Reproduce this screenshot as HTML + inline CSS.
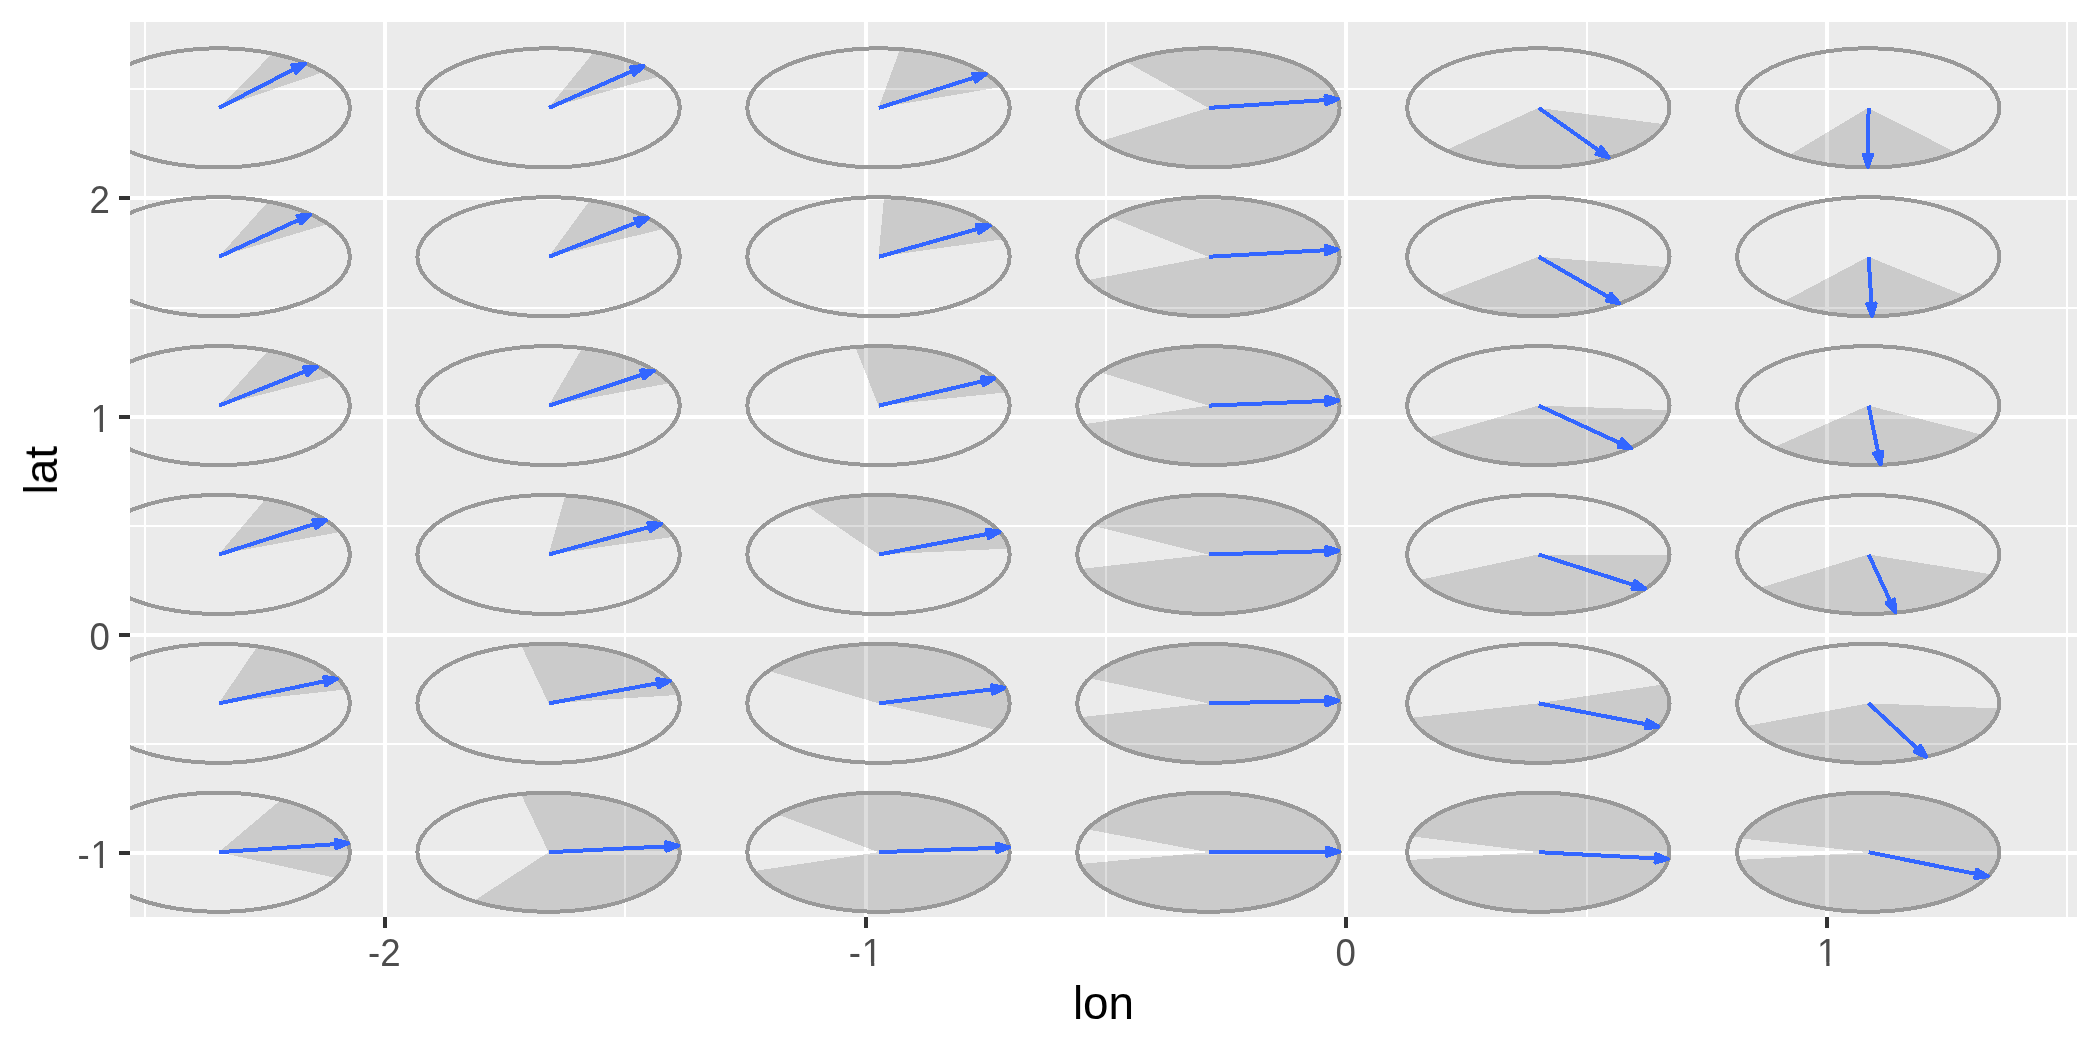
<!DOCTYPE html>
<html><head><meta charset="utf-8"><title>lon lat</title>
<style>html,body{margin:0;padding:0;background:#fff;overflow:hidden;}svg{display:block;}</style>
</head><body>
<svg xmlns="http://www.w3.org/2000/svg" width="2100" height="1050" viewBox="0 0 2100 1050">
<defs><clipPath id="pc"><rect x="130" y="22" width="1947" height="895"/></clipPath></defs>
<rect width="2100" height="1050" fill="#ffffff"/>
<rect x="130" y="22" width="1947" height="895" fill="#ebebeb"/>
<path d="M145 22V917M625 22V917M1106 22V917M1587 22V917M2067 22V917M130 744H2077M130 526H2077M130 308H2077M130 89H2077" stroke="#ffffff" stroke-width="2" fill="none"/>
<path d="M385 22V917M866 22V917M1346 22V917M1827 22V917M130 853H2077M130 635H2077M130 417H2077M130 198H2077" stroke="#ffffff" stroke-width="4" fill="none"/>
<g clip-path="url(#pc)" shape-rendering="crispEdges">
<path d="M218.7 107.9 L323.59 72.08 L319 69.47 L314.1 66.97 L308.9 64.61 L303.41 62.38 L297.66 60.29 L291.66 58.36 L285.43 56.58 L278.99 54.96 L272.36 53.51ZM548.6 107.9 L659.85 76.29 L655.48 73.32 L650.74 70.48 L645.62 67.77 L640.16 65.2 L634.36 62.79 L628.26 60.54 L621.88 58.45 L615.23 56.55 L608.34 54.83 L601.24 53.3 L593.95 51.97ZM878.5 107.9 L1001.32 86.91 L998.25 83.52 L994.72 80.23 L990.76 77.03 L986.37 73.96 L981.57 71.01 L976.38 68.2 L970.83 65.55 L964.92 63.05 L958.69 60.72 L952.15 58.57 L945.34 56.61 L938.27 54.84 L930.98 53.27 L923.48 51.91 L915.82 50.76 L908.02 49.82 L900.11 49.11ZM1208.4 107.9 L1099.93 141.44 L1104.74 144.45 L1109.95 147.31 L1115.54 150.01 L1121.49 152.56 L1127.78 154.93 L1134.39 157.12 L1141.28 159.12 L1148.43 160.91 L1155.81 162.51 L1163.4 163.89 L1171.16 165.05 L1179.07 166 L1187.09 166.71 L1195.19 167.2 L1203.34 167.46 L1211.52 167.49 L1219.68 167.28 L1227.79 166.85 L1235.84 166.19 L1243.77 165.3 L1251.57 164.19 L1259.2 162.86 L1266.64 161.31 L1273.85 159.56 L1280.8 157.61 L1287.47 155.47 L1293.84 153.14 L1299.87 150.63 L1305.55 147.96 L1310.86 145.14 L1315.76 142.17 L1320.25 139.07 L1324.31 135.84 L1327.91 132.51 L1331.05 129.08 L1333.72 125.57 L1335.9 122 L1337.58 118.36 L1338.77 114.69 L1339.45 110.99 L1339.61 107.28 L1339.28 103.57 L1338.43 99.88 L1337.08 96.21 L1335.22 92.6 L1332.88 89.04 L1330.05 85.56 L1326.76 82.16 L1323 78.86 L1318.79 75.68 L1314.16 72.62 L1309.12 69.7 L1303.69 66.92 L1297.89 64.31 L1291.74 61.86 L1285.27 59.59 L1278.5 57.51 L1271.46 55.63 L1264.17 53.95 L1256.66 52.47 L1248.97 51.22 L1241.13 50.18 L1233.15 49.37 L1225.08 48.78 L1216.94 48.42 L1208.77 48.3 L1200.6 48.4 L1192.46 48.74 L1184.39 49.3 L1176.4 50.1 L1168.54 51.11 L1160.83 52.35 L1153.31 53.8 L1146 55.47 L1138.94 57.33 L1132.14 59.39 L1125.64 61.65ZM1538.3 107.9 L1445.94 150.24 L1451.79 152.72 L1457.97 155.03 L1464.44 157.17 L1471.19 159.12 L1478.19 160.88 L1485.41 162.45 L1492.83 163.81 L1500.42 164.97 L1508.15 165.91 L1515.99 166.64 L1523.91 167.14 L1531.89 167.43 L1539.89 167.5 L1547.89 167.34 L1555.85 166.97 L1563.74 166.37 L1571.54 165.56 L1579.22 164.53 L1586.74 163.29 L1594.08 161.85 L1601.22 160.21 L1608.12 158.37 L1614.77 156.34 L1621.12 154.13 L1627.17 151.75 L1632.89 149.21 L1638.26 146.51 L1643.26 143.67 L1647.86 140.7 L1652.06 137.61 L1655.84 134.4 L1659.18 131.1 L1662.06 127.71 L1664.49 124.25ZM1868.2 107.9 L1788.95 155.41 L1795.66 157.57 L1802.65 159.53 L1809.9 161.3 L1817.38 162.85 L1825.05 164.19 L1832.9 165.31 L1840.89 166.2 L1848.98 166.86 L1857.15 167.29 L1865.36 167.49 L1873.58 167.45 L1881.78 167.18 L1889.93 166.68 L1897.99 165.95 L1905.94 164.99 L1913.74 163.8 L1921.36 162.39 L1928.77 160.78 L1935.94 158.95 L1942.84 156.92 L1949.46 154.7 L1955.75 152.3ZM218.7 256.76 L328.3 223.98 L323.76 221.05 L318.85 218.24 L313.57 215.58 L307.94 213.06 L302 210.7 L295.75 208.51 L289.23 206.5 L282.45 204.66 L275.43 203.01 L268.22 201.56ZM548.6 256.76 L664.45 228.77 L660.65 225.74 L656.46 222.81 L651.9 220 L646.98 217.32 L641.73 214.77 L636.16 212.37 L630.29 210.11 L624.14 208.02 L617.73 206.1 L611.08 204.35 L604.22 202.78 L597.17 201.39 L589.95 200.19ZM878.5 256.76 L1003.86 239.14 L1001.24 235.68 L998.16 232.3 L994.63 229.01 L990.66 225.82 L986.27 222.76 L981.47 219.82 L976.29 217.01 L970.73 214.36 L964.83 211.87 L958.6 209.55 L952.07 207.41 L945.26 205.45 L938.2 203.68 L930.92 202.12 L923.44 200.76 L915.78 199.61 L907.99 198.68 L900.09 197.97 L892.1 197.48 L884.07 197.21ZM1208.4 256.76 L1087.68 280.13 L1091.11 283.49 L1094.99 286.74 L1099.31 289.88 L1104.05 292.9 L1109.19 295.77 L1114.71 298.49 L1120.6 301.05 L1126.82 303.45 L1133.36 305.66 L1140.19 307.68 L1147.28 309.5 L1154.61 311.13 L1162.14 312.54 L1169.85 313.73 L1177.72 314.71 L1185.7 315.47 L1193.76 315.99 L1201.89 316.29 L1210.04 316.36 L1218.18 316.2 L1226.29 315.81 L1234.32 315.19 L1242.26 314.35 L1250.07 313.28 L1257.71 312 L1265.17 310.5 L1272.4 308.79 L1279.39 306.89 L1286.11 304.79 L1292.52 302.51 L1298.61 300.05 L1304.35 297.42 L1309.73 294.63 L1314.71 291.7 L1319.28 288.64 L1323.42 285.45 L1327.12 282.15 L1330.36 278.75 L1333.13 275.27 L1335.42 271.72 L1337.22 268.11 L1338.52 264.45 L1339.33 260.77 L1339.62 257.07 L1339.41 253.37 L1338.69 249.68 L1337.47 246.02 L1335.76 242.4 L1333.55 238.83 L1330.86 235.34 L1327.69 231.93 L1324.07 228.61 L1320 225.4 L1315.49 222.32 L1310.58 219.36 L1305.27 216.55 L1299.59 213.9 L1293.55 211.41 L1287.19 209.1 L1280.52 206.97 L1273.58 205.03 L1266.38 203.29 L1258.96 201.76 L1251.35 200.44 L1243.56 199.34 L1235.65 198.46 L1227.63 197.8 L1219.53 197.37 L1211.39 197.17 L1203.24 197.2 L1195.11 197.46 L1187.03 197.95 L1179.03 198.67 L1171.15 199.61 L1163.41 200.77 L1155.84 202.15 L1148.48 203.73 L1141.35 205.53 L1134.47 207.52 L1127.88 209.7 L1121.61 212.06 L1115.66 214.59 L1110.08 217.29ZM1538.3 256.76 L1438.42 295.42 L1443.95 298.19 L1449.86 300.79 L1456.12 303.23 L1462.7 305.48 L1469.58 307.54 L1476.73 309.39 L1484.12 311.05 L1491.72 312.48 L1499.51 313.7 L1507.45 314.69 L1515.52 315.46 L1523.67 315.99 L1531.88 316.29 L1540.12 316.36 L1548.35 316.19 L1556.54 315.79 L1564.65 315.15 L1572.67 314.28 L1580.55 313.19 L1588.26 311.88 L1595.77 310.34 L1603.06 308.6 L1610.09 306.65 L1616.84 304.51 L1623.28 302.18 L1629.39 299.66 L1635.14 296.98 L1640.5 294.14 L1645.47 291.16 L1650.01 288.04 L1654.11 284.79 L1657.75 281.43 L1660.92 277.98 L1663.61 274.45 L1665.81 270.84 L1667.5 267.18ZM1868.2 256.76 L1782.73 301.99 L1789.09 304.31 L1795.75 306.46 L1802.7 308.41 L1809.89 310.16 L1817.32 311.7 L1824.93 313.03 L1832.72 314.14 L1840.65 315.04 L1848.68 315.7 L1856.78 316.14 L1864.93 316.35 L1873.1 316.32 L1881.24 316.07 L1889.33 315.59 L1897.35 314.88 L1905.25 313.94 L1913 312.78 L1920.58 311.41 L1927.96 309.82 L1935.11 308.03 L1942 306.04 L1948.61 303.86 L1954.9 301.5 L1960.86 298.97 L1966.45 296.27ZM218.7 405.62 L332.91 376.27 L328.78 373.17 L324.24 370.2 L319.31 367.36 L314.01 364.65 L308.36 362.1 L302.38 359.71 L296.09 357.49 L289.52 355.44 L282.68 353.58 L275.61 351.91 L268.33 350.44ZM548.6 405.62 L670.1 383.11 L666.82 379.75 L663.09 376.49 L658.92 373.34 L654.33 370.32 L649.34 367.43 L643.97 364.68 L638.23 362.09 L632.16 359.66 L625.77 357.41 L619.08 355.34 L612.13 353.47 L604.93 351.79 L597.52 350.31 L589.93 349.05 L582.17 348ZM878.5 405.62 L1006.44 392.37 L1004.43 388.86 L1001.94 385.4 L999 382.02 L995.61 378.73 L991.78 375.53 L987.53 372.45 L982.87 369.49 L977.83 366.67 L972.42 363.99 L966.66 361.47 L960.57 359.11 L954.17 356.92 L947.49 354.92 L940.56 353.1 L933.4 351.48 L926.03 350.06 L918.48 348.85 L910.79 347.85 L902.97 347.06 L895.07 346.49 L887.1 346.14 L879.1 346.02 L871.1 346.11 L863.13 346.43 L855.21 346.96ZM1208.4 405.62 L1083.8 424.32 L1086.61 427.81 L1089.9 431.22 L1093.64 434.53 L1097.84 437.72 L1102.46 440.79 L1107.5 443.73 L1112.93 446.51 L1118.73 449.14 L1124.88 451.59 L1131.36 453.87 L1138.14 455.96 L1145.19 457.85 L1152.49 459.54 L1160 461.02 L1167.71 462.29 L1175.57 463.33 L1183.56 464.15 L1191.65 464.74 L1199.8 465.1 L1207.99 465.22 L1216.17 465.12 L1224.33 464.78 L1232.43 464.22 L1240.43 463.42 L1248.31 462.4 L1256.03 461.16 L1263.56 459.7 L1270.88 458.03 L1277.96 456.16 L1284.77 454.09 L1291.28 451.83 L1297.46 449.39 L1303.3 446.78 L1308.77 444.01 L1313.85 441.1 L1318.52 438.04 L1322.75 434.85 L1326.55 431.56 L1329.88 428.16 L1332.74 424.67 L1335.11 421.11 L1336.99 417.49 L1338.37 413.82 L1339.25 410.12 L1339.61 406.41 L1339.46 402.69 L1338.8 398.98 L1337.64 395.29 L1335.97 391.65 L1333.8 388.06 L1331.15 384.55 L1328.01 381.11 L1324.41 377.77 L1320.36 374.53 L1315.87 371.42 L1310.96 368.44 L1305.66 365.61 L1299.97 362.93 L1293.93 360.42 L1287.56 358.08 L1280.87 355.93 L1273.91 353.97 L1266.68 352.22 L1259.23 350.67 L1251.59 349.34 L1243.77 348.22 L1235.82 347.33 L1227.76 346.67 L1219.63 346.23 L1211.45 346.03 L1203.26 346.06 L1195.09 346.32 L1186.97 346.82 L1178.93 347.54 L1171.01 348.49 L1163.24 349.66 L1155.64 351.05 L1148.24 352.65 L1141.09 354.46 L1134.19 356.46 L1127.58 358.66 L1121.29 361.04 L1115.34 363.6 L1109.75 366.32 L1104.54 369.19 L1099.74 372.2ZM1538.3 405.62 L1427.77 437.75 L1432.4 440.81 L1437.44 443.75 L1442.87 446.53 L1448.68 449.16 L1454.83 451.61 L1461.31 453.89 L1468.09 455.98 L1475.15 457.87 L1482.45 459.56 L1489.96 461.03 L1497.67 462.29 L1505.53 463.34 L1513.53 464.15 L1521.61 464.74 L1529.77 465.1 L1537.95 465.22 L1546.14 465.12 L1554.3 464.78 L1562.39 464.21 L1570.4 463.41 L1578.27 462.39 L1585.99 461.15 L1593.53 459.69 L1600.85 458.02 L1607.92 456.14 L1614.73 454.07 L1621.23 451.81 L1627.42 449.37 L1633.25 446.76 L1638.72 443.99 L1643.79 441.07 L1648.46 438.01 L1652.69 434.82 L1656.48 431.53 L1659.81 428.13 L1662.66 424.64 L1665.03 421.08 L1666.91 417.45 L1668.28 413.79 L1669.15 410.09ZM1868.2 405.62 L1774.03 447.13 L1779.87 449.7 L1786.05 452.1 L1792.55 454.32 L1799.33 456.36 L1806.38 458.2 L1813.67 459.83 L1821.16 461.26 L1828.84 462.48 L1836.66 463.48 L1844.61 464.25 L1852.65 464.8 L1860.75 465.13 L1868.88 465.22 L1877 465.09 L1885.09 464.73 L1893.12 464.14 L1901.05 463.33 L1908.85 462.29 L1916.5 461.04 L1923.96 459.58 L1931.21 457.9 L1938.21 456.03 L1944.95 453.96 L1951.4 451.71 L1957.52 449.28 L1963.3 446.69 L1968.72 443.94 L1973.75 441.03 L1978.37 438 L1982.58 434.84ZM218.7 554.48 L340.21 531.98 L337.11 528.79 L333.61 525.7 L329.72 522.7 L325.44 519.81 L320.81 517.04 L315.83 514.4 L310.51 511.89 L304.88 509.53 L298.96 507.33 L292.77 505.28 L286.32 503.4 L279.64 501.69 L272.76 500.17 L265.69 498.83ZM548.6 554.48 L673.94 536.83 L671.38 533.44 L668.37 530.13 L664.93 526.9 L661.08 523.78 L656.81 520.77 L652.16 517.87 L647.13 515.11 L641.74 512.5 L636.02 510.03 L629.99 507.72 L623.65 505.59 L617.05 503.63 L610.2 501.85 L603.13 500.27 L595.86 498.88 L588.42 497.69 L580.84 496.7 L573.14 495.93 L565.35 495.36ZM878.5 554.48 L1009.08 548.59 L1008.01 544.89 L1006.44 541.24 L1004.37 537.63 L1001.81 534.09 L998.76 530.64 L995.25 527.27 L991.28 524.01 L986.87 520.87 L982.03 517.86 L976.8 514.99 L971.17 512.28 L965.19 509.73 L958.86 507.36 L952.23 505.17 L945.3 503.18 L938.12 501.38 L930.7 499.79 L923.07 498.42 L915.28 497.26 L907.33 496.33 L899.28 495.63 L891.15 495.15 L882.96 494.91 L874.76 494.9 L866.57 495.12 L858.43 495.58 L850.37 496.26 L842.42 497.17 L834.61 498.31 L826.97 499.66 L819.53 501.23 L812.32 503.01 L805.37 504.99ZM1208.4 554.48 L1081.1 568.95 L1083.33 572.52 L1086.04 576.01 L1089.23 579.43 L1092.87 582.75 L1096.96 585.95 L1101.49 589.04 L1106.43 591.99 L1111.76 594.8 L1117.47 597.45 L1123.52 599.94 L1129.91 602.25 L1136.6 604.37 L1143.57 606.3 L1150.79 608.03 L1158.23 609.56 L1165.87 610.87 L1173.67 611.96 L1181.6 612.83 L1189.64 613.47 L1197.75 613.89 L1205.91 614.07 L1214.07 614.03 L1222.21 613.75 L1230.3 613.25 L1238.3 612.52 L1246.19 611.56 L1253.93 610.38 L1261.49 608.99 L1268.85 607.38 L1275.97 605.57 L1282.84 603.57 L1289.41 601.37 L1295.67 598.99 L1301.6 596.44 L1307.16 593.73 L1312.34 590.86 L1317.12 587.85 L1321.48 584.72 L1325.4 581.47 L1328.87 578.11 L1331.87 574.66 L1334.39 571.14 L1336.43 567.55 L1337.97 563.9 L1339.01 560.23 L1339.54 556.53 L1339.57 552.82 L1339.09 549.12 L1338.1 545.44 L1336.61 541.79 L1334.63 538.19 L1332.16 534.66 L1329.2 531.2 L1325.78 527.84 L1321.91 524.57 L1317.6 521.43 L1312.86 518.41 L1307.72 515.53 L1302.2 512.8 L1296.31 510.23 L1290.08 507.83 L1283.54 505.61 L1276.7 503.59 L1269.6 501.76 L1262.27 500.13 L1254.72 498.71 L1247 497.51 L1239.13 496.53 L1231.13 495.78 L1223.06 495.25 L1214.92 494.95 L1206.76 494.88 L1198.6 495.04 L1190.48 495.43 L1182.44 496.05 L1174.49 496.9 L1166.67 497.97 L1159.02 499.26 L1151.55 500.76 L1144.31 502.47 L1137.31 504.38 L1130.59 506.48 L1124.17 508.77 L1118.08 511.24 L1112.34 513.88 L1106.96 516.67 L1101.98 519.61 L1097.42 522.68 L1093.28 525.87ZM1538.3 554.48 L1419.65 579.93 L1423.38 583.25 L1427.55 586.45 L1432.16 589.53 L1437.19 592.47 L1442.61 595.26 L1448.4 597.9 L1454.54 600.36 L1461.01 602.65 L1467.78 604.75 L1474.83 606.65 L1482.13 608.35 L1489.64 609.83 L1497.34 611.11 L1505.2 612.16 L1513.2 612.98 L1521.29 613.58 L1529.44 613.95 L1537.63 614.08 L1545.83 613.99 L1553.99 613.66 L1562.09 613.1 L1570.11 612.31 L1577.99 611.29 L1585.72 610.06 L1593.27 608.6 L1600.6 606.94 L1607.69 605.07 L1614.51 603 L1621.03 600.75 L1627.23 598.31 L1633.08 595.7 L1638.56 592.94 L1643.65 590.02 L1648.33 586.96 L1652.58 583.78 L1656.38 580.48 L1659.72 577.08 L1662.59 573.59 L1664.98 570.03 L1666.87 566.41 L1668.26 562.74 L1669.14 559.04 L1669.51 555.32ZM1868.2 554.48 L1759.68 587.99 L1764.39 590.94 L1769.5 593.76 L1774.97 596.42 L1780.79 598.94 L1786.94 601.28 L1793.4 603.45 L1800.14 605.44 L1807.13 607.23 L1814.34 608.83 L1821.77 610.23 L1829.36 611.41 L1837.1 612.39 L1844.96 613.14 L1852.9 613.68 L1860.9 613.99 L1868.93 614.08 L1876.96 613.95 L1884.95 613.6 L1892.88 613.02 L1900.72 612.23 L1908.43 611.21 L1916 609.99 L1923.39 608.56 L1930.56 606.92 L1937.51 605.09 L1944.2 603.07 L1950.6 600.87 L1956.69 598.49 L1962.45 595.95 L1967.86 593.25 L1972.9 590.41 L1977.54 587.44 L1981.77 584.34 L1985.58 581.12 L1988.95 577.81 L1991.87 574.41ZM218.7 703.34 L346.29 689.41 L344.18 685.9 L341.61 682.47 L338.59 679.11 L335.12 675.84 L331.21 672.67 L326.89 669.61 L322.17 666.68 L317.07 663.89 L311.6 661.24 L305.78 658.75 L299.64 656.43 L293.2 654.27 L286.49 652.31 L279.52 650.53 L272.33 648.94 L264.94 647.56 L257.38 646.38ZM548.6 703.34 L678.49 694.88 L677.12 691.31 L675.28 687.79 L672.96 684.32 L670.19 680.93 L666.97 677.62 L663.32 674.4 L659.24 671.29 L654.75 668.3 L649.87 665.43 L644.61 662.71 L639 660.14 L633.06 657.72 L626.81 655.48 L620.27 653.41 L613.46 651.53 L606.42 649.83 L599.16 648.34 L591.71 647.04 L584.11 645.96 L576.37 645.09 L568.53 644.43 L560.62 643.99 L552.67 643.76 L544.69 643.76 L536.74 643.98 L528.83 644.42 L520.99 645.07ZM878.5 703.34 L996.1 729.79 L999.47 726.44 L1002.37 723.01 L1004.81 719.5 L1006.76 715.93 L1008.23 712.31 L1009.2 708.66 L1009.67 704.98 L1009.65 701.3 L1009.12 697.63 L1008.1 693.98 L1006.58 690.37 L1004.57 686.8 L1002.09 683.3 L999.13 679.88 L995.71 676.54 L991.85 673.31 L987.55 670.19 L982.84 667.2 L977.73 664.34 L972.25 661.63 L966.4 659.09 L960.23 656.71 L953.74 654.51 L946.96 652.49 L939.92 650.67 L932.65 649.05 L925.17 647.63 L917.52 646.43 L909.71 645.45 L901.79 644.68 L893.78 644.14 L885.71 643.83 L877.61 643.74 L869.52 643.88 L861.46 644.24 L853.46 644.83 L845.56 645.64 L837.79 646.68 L830.17 647.93 L822.73 649.39 L815.51 651.05 L808.53 652.92 L801.81 654.97 L795.39 657.21 L789.28 659.63 L783.52 662.22 L778.11 664.96 L773.09 667.84 L768.47 670.86ZM1208.4 703.34 L1080.74 717.13 L1082.88 720.72 L1085.51 724.24 L1088.62 727.68 L1092.19 731.02 L1096.22 734.26 L1100.68 737.38 L1105.56 740.36 L1110.85 743.21 L1116.51 745.89 L1122.53 748.41 L1128.89 750.76 L1135.55 752.92 L1142.5 754.88 L1149.71 756.65 L1157.14 758.21 L1164.77 759.55 L1172.57 760.68 L1180.52 761.58 L1188.57 762.26 L1196.7 762.71 L1204.87 762.92 L1213.06 762.91 L1221.23 762.66 L1229.35 762.18 L1237.38 761.47 L1245.31 760.54 L1253.09 759.38 L1260.7 758.01 L1268.1 756.42 L1275.27 754.62 L1282.18 752.63 L1288.81 750.44 L1295.12 748.07 L1301.09 745.53 L1306.7 742.82 L1311.93 739.96 L1316.76 736.96 L1321.16 733.82 L1325.13 730.57 L1328.64 727.21 L1331.68 723.76 L1334.25 720.22 L1336.32 716.63 L1337.9 712.98 L1338.97 709.29 L1339.53 705.58 L1339.58 701.86 L1339.12 698.15 L1338.16 694.46 L1336.68 690.8 L1334.71 687.19 L1332.25 683.64 L1329.3 680.17 L1325.89 676.79 L1322.01 673.52 L1317.7 670.35 L1312.96 667.32 L1307.81 664.43 L1302.27 661.69 L1296.37 659.11 L1290.13 656.71 L1283.56 654.48 L1276.71 652.45 L1269.59 650.61 L1262.23 648.98 L1254.66 647.56 L1246.92 646.36 L1239.02 645.38 L1231 644.63 L1222.9 644.1 L1214.73 643.81 L1206.55 643.74 L1198.37 643.91 L1190.23 644.31 L1182.16 644.94 L1174.19 645.8 L1166.36 646.88 L1158.69 648.18 L1151.21 649.69 L1143.96 651.42 L1136.95 653.35 L1130.23 655.47 L1123.81 657.77 L1117.72 660.26 L1111.98 662.91 L1106.61 665.72 L1101.65 668.68 L1097.1 671.77 L1092.98 674.98 L1089.31 678.31ZM1538.3 703.34 L1411.04 717.88 L1413.26 721.42 L1415.96 724.9 L1419.13 728.3 L1422.76 731.6 L1426.83 734.79 L1431.32 737.86 L1436.22 740.8 L1441.52 743.59 L1447.18 746.23 L1453.19 748.71 L1459.53 751.01 L1466.17 753.13 L1473.09 755.06 L1480.25 756.8 L1487.64 758.32 L1495.22 759.64 L1502.97 760.74 L1510.85 761.63 L1518.84 762.28 L1526.9 762.72 L1535 762.93 L1543.12 762.9 L1551.22 762.65 L1559.27 762.18 L1567.24 761.48 L1575.1 760.55 L1582.82 759.41 L1590.36 758.05 L1597.71 756.49 L1604.83 754.72 L1611.7 752.75 L1618.28 750.59 L1624.56 748.26 L1630.51 745.75 L1636.11 743.08 L1641.33 740.25 L1646.16 737.29 L1650.57 734.19 L1654.56 730.98 L1658.1 727.66 L1661.18 724.25 L1663.79 720.76 L1665.92 717.2 L1667.57 713.59 L1668.71 709.94 L1669.36 706.27 L1669.51 702.58 L1669.16 698.9 L1668.3 695.23 L1666.95 691.6 L1665.1 688.01 L1662.77 684.47ZM1868.2 703.34 L1746.85 726.03 L1750.18 729.4 L1753.96 732.67 L1758.19 735.83 L1762.83 738.86 L1767.88 741.76 L1773.31 744.51 L1779.11 747.1 L1785.25 749.53 L1791.71 751.77 L1798.47 753.83 L1805.49 755.7 L1812.75 757.36 L1820.23 758.82 L1827.89 760.06 L1835.71 761.09 L1843.65 761.89 L1851.68 762.47 L1859.78 762.82 L1867.91 762.94 L1876.04 762.84 L1884.14 762.5 L1892.18 761.94 L1900.13 761.15 L1907.96 760.14 L1915.63 758.91 L1923.12 757.47 L1930.4 755.82 L1937.44 753.97 L1944.22 751.92 L1950.7 749.69 L1956.86 747.28 L1962.69 744.7 L1968.15 741.96 L1973.22 739.07 L1977.9 736.05 L1982.15 732.9 L1985.96 729.63 L1989.32 726.27 L1992.22 722.82 L1994.64 719.29 L1996.57 715.7 L1998.01 712.06 L1998.95 708.39ZM218.7 852.2 L336.82 878.16 L340.09 874.84 L342.9 871.43 L345.26 867.95 L347.14 864.41 L348.54 860.83 L349.46 857.21 L349.89 853.58 L349.83 849.94 L349.28 846.31 L348.24 842.7 L346.73 839.12 L344.73 835.6 L342.26 832.14 L339.34 828.75 L335.96 825.45 L332.15 822.25 L327.91 819.16 L323.27 816.19 L318.23 813.36 L312.83 810.67 L307.07 808.14 L300.99 805.77 L294.59 803.58 L287.92 801.56 L280.99 799.74ZM548.6 852.2 L473.6 901.11 L480.41 903.12 L487.47 904.94 L494.77 906.56 L502.28 907.97 L509.97 909.16 L517.8 910.14 L525.75 910.89 L533.79 911.42 L541.89 911.73 L550.01 911.8 L558.13 911.65 L566.21 911.27 L574.22 910.66 L582.13 909.83 L589.92 908.77 L597.54 907.5 L604.98 906.02 L612.21 904.33 L619.19 902.45 L625.9 900.37 L632.31 898.1 L638.4 895.66 L644.15 893.05 L649.53 890.29 L654.53 887.38 L659.12 884.34 L663.28 881.17 L667.01 877.89 L670.28 874.51 L673.09 871.05 L675.42 867.51 L677.26 863.92 L678.61 860.28 L679.46 856.61 L679.81 852.93 L679.66 849.24 L679.01 845.56 L677.85 841.91 L676.2 838.29 L674.06 834.73 L671.44 831.24 L668.35 827.83 L664.8 824.51 L660.81 821.3 L656.38 818.2 L651.55 815.24 L646.31 812.42 L640.71 809.75 L634.75 807.24 L628.46 804.9 L621.86 802.75 L614.99 800.79 L607.86 799.02 L600.5 797.46 L592.94 796.1 L585.21 794.96 L577.35 794.04 L569.37 793.35 L561.31 792.88 L553.21 792.63 L545.08 792.62 L536.97 792.83 L528.91 793.27 L520.92 793.94ZM878.5 852.2 L754.04 871.09 L756.89 874.6 L760.23 878.02 L764.02 881.34 L768.27 884.54 L772.95 887.62 L778.05 890.55 L783.54 893.34 L789.41 895.96 L795.63 898.41 L802.17 900.68 L809.02 902.76 L816.14 904.64 L823.5 906.32 L831.08 907.78 L838.85 909.02 L846.77 910.04 L854.82 910.83 L862.96 911.38 L871.16 911.71 L879.39 911.8 L887.62 911.66 L895.81 911.28 L903.94 910.67 L911.96 909.83 L919.85 908.77 L927.58 907.48 L935.12 905.97 L942.43 904.25 L949.49 902.33 L956.27 900.21 L962.75 897.9 L968.89 895.41 L974.68 892.75 L980.09 889.93 L985.1 886.96 L989.69 883.86 L993.84 880.63 L997.54 877.28 L1000.76 873.84 L1003.51 870.32 L1005.77 866.72 L1007.52 863.07 L1008.77 859.37 L1009.5 855.65 L1009.72 851.91 L1009.42 848.17 L1008.61 844.45 L1007.28 840.76 L1005.45 837.11 L1003.11 833.52 L1000.29 830.01 L996.99 826.58 L993.22 823.26 L988.99 820.05 L984.34 816.96 L979.26 814.02 L973.79 811.22 L967.95 808.59 L961.75 806.13 L955.23 803.85 L948.4 801.76 L941.3 799.86 L933.95 798.18 L926.38 796.71 L918.62 795.45 L910.71 794.42 L902.67 793.62 L894.53 793.04 L886.33 792.7 L878.1 792.6 L869.87 792.72 L861.68 793.09 L853.55 793.68 L845.52 794.51 L837.62 795.56 L829.88 796.84 L822.33 798.33 L815 800.04 L807.92 801.95 L801.13 804.06 L794.63 806.36 L788.47 808.84 L782.66 811.49 L777.22 814.3ZM1208.4 852.2 L1079.81 864.07 L1081.69 867.7 L1084.07 871.27 L1086.94 874.76 L1090.28 878.16 L1094.08 881.46 L1098.33 884.65 L1103.01 887.71 L1108.1 890.63 L1113.58 893.4 L1119.43 896.01 L1125.63 898.45 L1132.15 900.71 L1138.98 902.78 L1146.07 904.65 L1153.41 906.32 L1160.96 907.77 L1168.69 909.01 L1176.59 910.03 L1184.6 910.82 L1192.71 911.38 L1200.88 911.71 L1209.08 911.8 L1217.28 911.67 L1225.44 911.3 L1233.54 910.7 L1241.54 909.87 L1249.4 908.82 L1257.11 907.55 L1264.63 906.05 L1271.93 904.35 L1278.98 902.45 L1285.75 900.35 L1292.22 898.06 L1298.37 895.59 L1304.16 892.95 L1309.58 890.15 L1314.6 887.21 L1319.21 884.13 L1323.38 880.92 L1327.11 877.6 L1330.37 874.18 L1333.16 870.68 L1335.46 867.1 L1337.26 863.47 L1338.55 859.79 L1339.34 856.08 L1339.62 852.35 L1339.39 848.63 L1338.64 844.92 L1337.38 841.24 L1335.62 837.6 L1333.37 834.02 L1330.62 830.51 L1327.4 827.08 L1323.71 823.75 L1319.57 820.53 L1315 817.44 L1310.01 814.48 L1304.62 811.67 L1298.86 809.02 L1292.74 806.54 L1286.3 804.23 L1279.55 802.12 L1272.52 800.2 L1265.24 798.48 L1257.74 796.97 L1250.05 795.68 L1242.19 794.61 L1234.2 793.76 L1226.12 793.14 L1217.96 792.75 L1209.76 792.6 L1201.56 792.68 L1193.39 792.99 L1185.27 793.53 L1177.25 794.3 L1169.34 795.3 L1161.59 796.52 L1154.02 797.95 L1146.67 799.6 L1139.55 801.46 L1132.71 803.51 L1126.16 805.75 L1119.93 808.18 L1114.05 810.78 L1108.53 813.53 L1103.41 816.44 L1098.7 819.49 L1094.41 822.67 L1090.57 825.96 L1087.2 829.36ZM1538.3 852.2 L1408.21 860.02 L1409.54 863.7 L1411.38 867.34 L1413.71 870.91 L1416.53 874.42 L1419.83 877.83 L1423.59 881.15 L1427.8 884.35 L1432.44 887.42 L1437.5 890.36 L1442.95 893.15 L1448.78 895.78 L1454.95 898.24 L1461.45 900.51 L1468.26 902.6 L1475.33 904.49 L1482.66 906.18 L1490.2 907.65 L1497.93 908.91 L1505.81 909.95 L1513.83 910.76 L1521.94 911.34 L1530.11 911.69 L1538.32 911.8 L1546.53 911.69 L1554.7 911.34 L1562.81 910.76 L1570.82 909.94 L1578.71 908.91 L1586.44 907.65 L1593.98 906.17 L1601.3 904.49 L1608.38 902.59 L1615.18 900.5 L1621.68 898.23 L1627.85 895.77 L1633.67 893.14 L1639.12 890.35 L1644.18 887.41 L1648.82 884.33 L1653.03 881.13 L1656.79 877.82 L1660.08 874.4 L1662.9 870.9 L1665.23 867.32 L1667.06 863.69 L1668.39 860.01 L1669.21 856.3 L1669.52 852.57 L1669.31 848.84 L1668.59 845.13 L1667.37 841.44 L1665.63 837.79 L1663.4 834.2 L1660.68 830.69 L1657.47 827.25 L1653.81 823.92 L1649.69 820.69 L1645.13 817.59 L1640.15 814.62 L1634.78 811.8 L1629.03 809.14 L1622.92 806.65 L1616.49 804.33 L1609.74 802.2 L1602.72 800.27 L1595.44 798.54 L1587.95 797.03 L1580.25 795.72 L1572.39 794.64 L1564.4 793.79 L1556.31 793.16 L1548.15 792.76 L1539.94 792.6 L1531.73 792.67 L1523.55 792.97 L1515.43 793.51 L1507.39 794.27 L1499.47 795.26 L1491.71 796.48 L1484.13 797.91 L1476.76 799.56 L1469.64 801.41 L1462.78 803.46 L1456.21 805.7 L1449.97 808.12 L1444.08 810.72 L1438.55 813.47 L1433.41 816.38 L1428.69 819.43 L1424.39 822.61 L1420.54 825.9 L1417.15 829.3 L1414.23 832.79 L1411.8 836.35ZM1868.2 852.2 L1738.13 860.07 L1739.46 863.73 L1741.29 867.35 L1743.61 870.91 L1746.42 874.4 L1749.69 877.8 L1753.43 881.1 L1757.61 884.29 L1762.23 887.35 L1767.25 890.28 L1772.66 893.06 L1778.45 895.68 L1784.58 898.13 L1791.04 900.41 L1797.79 902.5 L1804.82 904.39 L1812.1 906.08 L1819.59 907.56 L1827.27 908.83 L1835.11 909.88 L1843.08 910.7 L1851.14 911.3 L1859.27 911.67 L1867.44 911.8 L1875.61 911.71 L1883.75 911.38 L1891.83 910.83 L1899.82 910.05 L1907.69 909.04 L1915.4 907.82 L1922.93 906.37 L1930.25 904.72 L1937.32 902.86 L1944.13 900.81 L1950.65 898.57 L1956.84 896.15 L1962.69 893.56 L1968.18 890.81 L1973.27 887.91 L1977.96 884.87 L1982.22 881.7 L1986.05 878.42 L1989.41 875.03 L1992.3 871.56 L1994.72 868.02 L1996.64 864.41 L1998.06 860.75 L1998.98 857.07 L1999.4 853.36 L1999.3 849.65 L1998.7 845.95 L1997.59 842.27 L1995.98 838.63 L1993.87 835.04 L1991.27 831.52 L1988.2 828.08 L1984.66 824.74 L1980.67 821.5 L1976.25 818.38 L1971.4 815.39 L1966.16 812.54 L1960.54 809.85 L1954.55 807.32 L1948.23 804.97 L1941.61 802.79 L1934.69 800.81 L1927.52 799.03 L1920.12 797.46 L1912.52 796.1 L1904.75 794.95 L1896.83 794.03 L1888.8 793.34 L1880.7 792.87 L1872.54 792.63 L1864.37 792.62 L1856.21 792.85 L1848.1 793.3 L1840.07 793.98 L1832.15 794.89 L1824.36 796.02 L1816.75 797.37 L1809.34 798.93 L1802.15 800.7 L1795.22 802.66 L1788.57 804.82 L1782.24 807.17 L1776.23 809.68 L1770.58 812.37 L1765.31 815.2 L1760.44 818.19 L1755.99 821.3 L1751.97 824.53 L1748.41 827.87 L1745.31 831.3 L1742.68 834.82 L1740.54 838.4Z" fill="#000000" fill-opacity="0.133" stroke="none"/>
<path d="M349.92 107.9 L348.89 100.43 L345.8 93.08 L340.71 85.96 L333.69 79.19 L324.86 72.87 L314.36 67.1 L302.34 61.97 L289.01 57.57 L274.57 53.97 L259.25 51.21 L243.29 49.35 L226.94 48.41 L210.46 48.41 L194.11 49.35 L178.15 51.21 L162.83 53.97 L148.39 57.57 L135.06 61.97 L123.04 67.1 L112.54 72.87 L103.71 79.19 L96.69 85.96 L91.6 93.08 L88.51 100.43 L87.48 107.9 L88.51 115.37 L91.6 122.72 L96.69 129.84 L103.71 136.61 L112.54 142.93 L123.04 148.7 L135.06 153.83 L148.39 158.23 L162.83 161.83 L178.15 164.59 L194.11 166.45 L210.46 167.39 L226.94 167.39 L243.29 166.45 L259.25 164.59 L274.57 161.83 L289.01 158.23 L302.34 153.83 L314.36 148.7 L324.86 142.93 L333.69 136.61 L340.71 129.84 L345.8 122.72 L348.89 115.37ZM679.82 107.9 L678.79 100.43 L675.7 93.08 L670.61 85.96 L663.59 79.19 L654.76 72.87 L644.26 67.1 L632.24 61.97 L618.91 57.57 L604.47 53.97 L589.15 51.21 L573.19 49.35 L556.84 48.41 L540.36 48.41 L524.01 49.35 L508.05 51.21 L492.73 53.97 L478.29 57.57 L464.96 61.97 L452.94 67.1 L442.44 72.87 L433.61 79.19 L426.59 85.96 L421.5 93.08 L418.41 100.43 L417.38 107.9 L418.41 115.37 L421.5 122.72 L426.59 129.84 L433.61 136.61 L442.44 142.93 L452.94 148.7 L464.96 153.83 L478.29 158.23 L492.73 161.83 L508.05 164.59 L524.01 166.45 L540.36 167.39 L556.84 167.39 L573.19 166.45 L589.15 164.59 L604.47 161.83 L618.91 158.23 L632.24 153.83 L644.26 148.7 L654.76 142.93 L663.59 136.61 L670.61 129.84 L675.7 122.72 L678.79 115.37ZM1009.72 107.9 L1008.69 100.43 L1005.6 93.08 L1000.51 85.96 L993.49 79.19 L984.66 72.87 L974.16 67.1 L962.14 61.97 L948.81 57.57 L934.37 53.97 L919.05 51.21 L903.09 49.35 L886.74 48.41 L870.26 48.41 L853.91 49.35 L837.95 51.21 L822.63 53.97 L808.19 57.57 L794.86 61.97 L782.84 67.1 L772.34 72.87 L763.51 79.19 L756.49 85.96 L751.4 93.08 L748.31 100.43 L747.28 107.9 L748.31 115.37 L751.4 122.72 L756.49 129.84 L763.51 136.61 L772.34 142.93 L782.84 148.7 L794.86 153.83 L808.19 158.23 L822.63 161.83 L837.95 164.59 L853.91 166.45 L870.26 167.39 L886.74 167.39 L903.09 166.45 L919.05 164.59 L934.37 161.83 L948.81 158.23 L962.14 153.83 L974.16 148.7 L984.66 142.93 L993.49 136.61 L1000.51 129.84 L1005.6 122.72 L1008.69 115.37ZM1339.62 107.9 L1338.59 100.43 L1335.5 93.08 L1330.41 85.96 L1323.39 79.19 L1314.56 72.87 L1304.06 67.1 L1292.04 61.97 L1278.71 57.57 L1264.27 53.97 L1248.95 51.21 L1232.99 49.35 L1216.64 48.41 L1200.16 48.41 L1183.81 49.35 L1167.85 51.21 L1152.53 53.97 L1138.09 57.57 L1124.76 61.97 L1112.74 67.1 L1102.24 72.87 L1093.41 79.19 L1086.39 85.96 L1081.3 93.08 L1078.21 100.43 L1077.18 107.9 L1078.21 115.37 L1081.3 122.72 L1086.39 129.84 L1093.41 136.61 L1102.24 142.93 L1112.74 148.7 L1124.76 153.83 L1138.09 158.23 L1152.53 161.83 L1167.85 164.59 L1183.81 166.45 L1200.16 167.39 L1216.64 167.39 L1232.99 166.45 L1248.95 164.59 L1264.27 161.83 L1278.71 158.23 L1292.04 153.83 L1304.06 148.7 L1314.56 142.93 L1323.39 136.61 L1330.41 129.84 L1335.5 122.72 L1338.59 115.37ZM1669.52 107.9 L1668.49 100.43 L1665.4 93.08 L1660.31 85.96 L1653.29 79.19 L1644.46 72.87 L1633.96 67.1 L1621.94 61.97 L1608.61 57.57 L1594.17 53.97 L1578.85 51.21 L1562.89 49.35 L1546.54 48.41 L1530.06 48.41 L1513.71 49.35 L1497.75 51.21 L1482.43 53.97 L1467.99 57.57 L1454.66 61.97 L1442.64 67.1 L1432.14 72.87 L1423.31 79.19 L1416.29 85.96 L1411.2 93.08 L1408.11 100.43 L1407.08 107.9 L1408.11 115.37 L1411.2 122.72 L1416.29 129.84 L1423.31 136.61 L1432.14 142.93 L1442.64 148.7 L1454.66 153.83 L1467.99 158.23 L1482.43 161.83 L1497.75 164.59 L1513.71 166.45 L1530.06 167.39 L1546.54 167.39 L1562.89 166.45 L1578.85 164.59 L1594.17 161.83 L1608.61 158.23 L1621.94 153.83 L1633.96 148.7 L1644.46 142.93 L1653.29 136.61 L1660.31 129.84 L1665.4 122.72 L1668.49 115.37ZM1999.42 107.9 L1998.39 100.43 L1995.3 93.08 L1990.21 85.96 L1983.19 79.19 L1974.36 72.87 L1963.86 67.1 L1951.84 61.97 L1938.51 57.57 L1924.07 53.97 L1908.75 51.21 L1892.79 49.35 L1876.44 48.41 L1859.96 48.41 L1843.61 49.35 L1827.65 51.21 L1812.33 53.97 L1797.89 57.57 L1784.56 61.97 L1772.54 67.1 L1762.04 72.87 L1753.21 79.19 L1746.19 85.96 L1741.1 93.08 L1738.01 100.43 L1736.98 107.9 L1738.01 115.37 L1741.1 122.72 L1746.19 129.84 L1753.21 136.61 L1762.04 142.93 L1772.54 148.7 L1784.56 153.83 L1797.89 158.23 L1812.33 161.83 L1827.65 164.59 L1843.61 166.45 L1859.96 167.39 L1876.44 167.39 L1892.79 166.45 L1908.75 164.59 L1924.07 161.83 L1938.51 158.23 L1951.84 153.83 L1963.86 148.7 L1974.36 142.93 L1983.19 136.61 L1990.21 129.84 L1995.3 122.72 L1998.39 115.37ZM349.92 256.76 L348.89 249.29 L345.8 241.94 L340.71 234.82 L333.69 228.05 L324.86 221.73 L314.36 215.96 L302.34 210.83 L289.01 206.43 L274.57 202.83 L259.25 200.07 L243.29 198.21 L226.94 197.27 L210.46 197.27 L194.11 198.21 L178.15 200.07 L162.83 202.83 L148.39 206.43 L135.06 210.83 L123.04 215.96 L112.54 221.73 L103.71 228.05 L96.69 234.82 L91.6 241.94 L88.51 249.29 L87.48 256.76 L88.51 264.23 L91.6 271.58 L96.69 278.7 L103.71 285.47 L112.54 291.79 L123.04 297.56 L135.06 302.69 L148.39 307.09 L162.83 310.69 L178.15 313.45 L194.11 315.31 L210.46 316.25 L226.94 316.25 L243.29 315.31 L259.25 313.45 L274.57 310.69 L289.01 307.09 L302.34 302.69 L314.36 297.56 L324.86 291.79 L333.69 285.47 L340.71 278.7 L345.8 271.58 L348.89 264.23ZM679.82 256.76 L678.79 249.29 L675.7 241.94 L670.61 234.82 L663.59 228.05 L654.76 221.73 L644.26 215.96 L632.24 210.83 L618.91 206.43 L604.47 202.83 L589.15 200.07 L573.19 198.21 L556.84 197.27 L540.36 197.27 L524.01 198.21 L508.05 200.07 L492.73 202.83 L478.29 206.43 L464.96 210.83 L452.94 215.96 L442.44 221.73 L433.61 228.05 L426.59 234.82 L421.5 241.94 L418.41 249.29 L417.38 256.76 L418.41 264.23 L421.5 271.58 L426.59 278.7 L433.61 285.47 L442.44 291.79 L452.94 297.56 L464.96 302.69 L478.29 307.09 L492.73 310.69 L508.05 313.45 L524.01 315.31 L540.36 316.25 L556.84 316.25 L573.19 315.31 L589.15 313.45 L604.47 310.69 L618.91 307.09 L632.24 302.69 L644.26 297.56 L654.76 291.79 L663.59 285.47 L670.61 278.7 L675.7 271.58 L678.79 264.23ZM1009.72 256.76 L1008.69 249.29 L1005.6 241.94 L1000.51 234.82 L993.49 228.05 L984.66 221.73 L974.16 215.96 L962.14 210.83 L948.81 206.43 L934.37 202.83 L919.05 200.07 L903.09 198.21 L886.74 197.27 L870.26 197.27 L853.91 198.21 L837.95 200.07 L822.63 202.83 L808.19 206.43 L794.86 210.83 L782.84 215.96 L772.34 221.73 L763.51 228.05 L756.49 234.82 L751.4 241.94 L748.31 249.29 L747.28 256.76 L748.31 264.23 L751.4 271.58 L756.49 278.7 L763.51 285.47 L772.34 291.79 L782.84 297.56 L794.86 302.69 L808.19 307.09 L822.63 310.69 L837.95 313.45 L853.91 315.31 L870.26 316.25 L886.74 316.25 L903.09 315.31 L919.05 313.45 L934.37 310.69 L948.81 307.09 L962.14 302.69 L974.16 297.56 L984.66 291.79 L993.49 285.47 L1000.51 278.7 L1005.6 271.58 L1008.69 264.23ZM1339.62 256.76 L1338.59 249.29 L1335.5 241.94 L1330.41 234.82 L1323.39 228.05 L1314.56 221.73 L1304.06 215.96 L1292.04 210.83 L1278.71 206.43 L1264.27 202.83 L1248.95 200.07 L1232.99 198.21 L1216.64 197.27 L1200.16 197.27 L1183.81 198.21 L1167.85 200.07 L1152.53 202.83 L1138.09 206.43 L1124.76 210.83 L1112.74 215.96 L1102.24 221.73 L1093.41 228.05 L1086.39 234.82 L1081.3 241.94 L1078.21 249.29 L1077.18 256.76 L1078.21 264.23 L1081.3 271.58 L1086.39 278.7 L1093.41 285.47 L1102.24 291.79 L1112.74 297.56 L1124.76 302.69 L1138.09 307.09 L1152.53 310.69 L1167.85 313.45 L1183.81 315.31 L1200.16 316.25 L1216.64 316.25 L1232.99 315.31 L1248.95 313.45 L1264.27 310.69 L1278.71 307.09 L1292.04 302.69 L1304.06 297.56 L1314.56 291.79 L1323.39 285.47 L1330.41 278.7 L1335.5 271.58 L1338.59 264.23ZM1669.52 256.76 L1668.49 249.29 L1665.4 241.94 L1660.31 234.82 L1653.29 228.05 L1644.46 221.73 L1633.96 215.96 L1621.94 210.83 L1608.61 206.43 L1594.17 202.83 L1578.85 200.07 L1562.89 198.21 L1546.54 197.27 L1530.06 197.27 L1513.71 198.21 L1497.75 200.07 L1482.43 202.83 L1467.99 206.43 L1454.66 210.83 L1442.64 215.96 L1432.14 221.73 L1423.31 228.05 L1416.29 234.82 L1411.2 241.94 L1408.11 249.29 L1407.08 256.76 L1408.11 264.23 L1411.2 271.58 L1416.29 278.7 L1423.31 285.47 L1432.14 291.79 L1442.64 297.56 L1454.66 302.69 L1467.99 307.09 L1482.43 310.69 L1497.75 313.45 L1513.71 315.31 L1530.06 316.25 L1546.54 316.25 L1562.89 315.31 L1578.85 313.45 L1594.17 310.69 L1608.61 307.09 L1621.94 302.69 L1633.96 297.56 L1644.46 291.79 L1653.29 285.47 L1660.31 278.7 L1665.4 271.58 L1668.49 264.23ZM1999.42 256.76 L1998.39 249.29 L1995.3 241.94 L1990.21 234.82 L1983.19 228.05 L1974.36 221.73 L1963.86 215.96 L1951.84 210.83 L1938.51 206.43 L1924.07 202.83 L1908.75 200.07 L1892.79 198.21 L1876.44 197.27 L1859.96 197.27 L1843.61 198.21 L1827.65 200.07 L1812.33 202.83 L1797.89 206.43 L1784.56 210.83 L1772.54 215.96 L1762.04 221.73 L1753.21 228.05 L1746.19 234.82 L1741.1 241.94 L1738.01 249.29 L1736.98 256.76 L1738.01 264.23 L1741.1 271.58 L1746.19 278.7 L1753.21 285.47 L1762.04 291.79 L1772.54 297.56 L1784.56 302.69 L1797.89 307.09 L1812.33 310.69 L1827.65 313.45 L1843.61 315.31 L1859.96 316.25 L1876.44 316.25 L1892.79 315.31 L1908.75 313.45 L1924.07 310.69 L1938.51 307.09 L1951.84 302.69 L1963.86 297.56 L1974.36 291.79 L1983.19 285.47 L1990.21 278.7 L1995.3 271.58 L1998.39 264.23ZM349.92 405.62 L348.89 398.15 L345.8 390.8 L340.71 383.68 L333.69 376.91 L324.86 370.59 L314.36 364.82 L302.34 359.69 L289.01 355.29 L274.57 351.69 L259.25 348.93 L243.29 347.07 L226.94 346.13 L210.46 346.13 L194.11 347.07 L178.15 348.93 L162.83 351.69 L148.39 355.29 L135.06 359.69 L123.04 364.82 L112.54 370.59 L103.71 376.91 L96.69 383.68 L91.6 390.8 L88.51 398.15 L87.48 405.62 L88.51 413.09 L91.6 420.44 L96.69 427.56 L103.71 434.33 L112.54 440.65 L123.04 446.42 L135.06 451.55 L148.39 455.95 L162.83 459.55 L178.15 462.31 L194.11 464.17 L210.46 465.11 L226.94 465.11 L243.29 464.17 L259.25 462.31 L274.57 459.55 L289.01 455.95 L302.34 451.55 L314.36 446.42 L324.86 440.65 L333.69 434.33 L340.71 427.56 L345.8 420.44 L348.89 413.09ZM679.82 405.62 L678.79 398.15 L675.7 390.8 L670.61 383.68 L663.59 376.91 L654.76 370.59 L644.26 364.82 L632.24 359.69 L618.91 355.29 L604.47 351.69 L589.15 348.93 L573.19 347.07 L556.84 346.13 L540.36 346.13 L524.01 347.07 L508.05 348.93 L492.73 351.69 L478.29 355.29 L464.96 359.69 L452.94 364.82 L442.44 370.59 L433.61 376.91 L426.59 383.68 L421.5 390.8 L418.41 398.15 L417.38 405.62 L418.41 413.09 L421.5 420.44 L426.59 427.56 L433.61 434.33 L442.44 440.65 L452.94 446.42 L464.96 451.55 L478.29 455.95 L492.73 459.55 L508.05 462.31 L524.01 464.17 L540.36 465.11 L556.84 465.11 L573.19 464.17 L589.15 462.31 L604.47 459.55 L618.91 455.95 L632.24 451.55 L644.26 446.42 L654.76 440.65 L663.59 434.33 L670.61 427.56 L675.7 420.44 L678.79 413.09ZM1009.72 405.62 L1008.69 398.15 L1005.6 390.8 L1000.51 383.68 L993.49 376.91 L984.66 370.59 L974.16 364.82 L962.14 359.69 L948.81 355.29 L934.37 351.69 L919.05 348.93 L903.09 347.07 L886.74 346.13 L870.26 346.13 L853.91 347.07 L837.95 348.93 L822.63 351.69 L808.19 355.29 L794.86 359.69 L782.84 364.82 L772.34 370.59 L763.51 376.91 L756.49 383.68 L751.4 390.8 L748.31 398.15 L747.28 405.62 L748.31 413.09 L751.4 420.44 L756.49 427.56 L763.51 434.33 L772.34 440.65 L782.84 446.42 L794.86 451.55 L808.19 455.95 L822.63 459.55 L837.95 462.31 L853.91 464.17 L870.26 465.11 L886.74 465.11 L903.09 464.17 L919.05 462.31 L934.37 459.55 L948.81 455.95 L962.14 451.55 L974.16 446.42 L984.66 440.65 L993.49 434.33 L1000.51 427.56 L1005.6 420.44 L1008.69 413.09ZM1339.62 405.62 L1338.59 398.15 L1335.5 390.8 L1330.41 383.68 L1323.39 376.91 L1314.56 370.59 L1304.06 364.82 L1292.04 359.69 L1278.71 355.29 L1264.27 351.69 L1248.95 348.93 L1232.99 347.07 L1216.64 346.13 L1200.16 346.13 L1183.81 347.07 L1167.85 348.93 L1152.53 351.69 L1138.09 355.29 L1124.76 359.69 L1112.74 364.82 L1102.24 370.59 L1093.41 376.91 L1086.39 383.68 L1081.3 390.8 L1078.21 398.15 L1077.18 405.62 L1078.21 413.09 L1081.3 420.44 L1086.39 427.56 L1093.41 434.33 L1102.24 440.65 L1112.74 446.42 L1124.76 451.55 L1138.09 455.95 L1152.53 459.55 L1167.85 462.31 L1183.81 464.17 L1200.16 465.11 L1216.64 465.11 L1232.99 464.17 L1248.95 462.31 L1264.27 459.55 L1278.71 455.95 L1292.04 451.55 L1304.06 446.42 L1314.56 440.65 L1323.39 434.33 L1330.41 427.56 L1335.5 420.44 L1338.59 413.09ZM1669.52 405.62 L1668.49 398.15 L1665.4 390.8 L1660.31 383.68 L1653.29 376.91 L1644.46 370.59 L1633.96 364.82 L1621.94 359.69 L1608.61 355.29 L1594.17 351.69 L1578.85 348.93 L1562.89 347.07 L1546.54 346.13 L1530.06 346.13 L1513.71 347.07 L1497.75 348.93 L1482.43 351.69 L1467.99 355.29 L1454.66 359.69 L1442.64 364.82 L1432.14 370.59 L1423.31 376.91 L1416.29 383.68 L1411.2 390.8 L1408.11 398.15 L1407.08 405.62 L1408.11 413.09 L1411.2 420.44 L1416.29 427.56 L1423.31 434.33 L1432.14 440.65 L1442.64 446.42 L1454.66 451.55 L1467.99 455.95 L1482.43 459.55 L1497.75 462.31 L1513.71 464.17 L1530.06 465.11 L1546.54 465.11 L1562.89 464.17 L1578.85 462.31 L1594.17 459.55 L1608.61 455.95 L1621.94 451.55 L1633.96 446.42 L1644.46 440.65 L1653.29 434.33 L1660.31 427.56 L1665.4 420.44 L1668.49 413.09ZM1999.42 405.62 L1998.39 398.15 L1995.3 390.8 L1990.21 383.68 L1983.19 376.91 L1974.36 370.59 L1963.86 364.82 L1951.84 359.69 L1938.51 355.29 L1924.07 351.69 L1908.75 348.93 L1892.79 347.07 L1876.44 346.13 L1859.96 346.13 L1843.61 347.07 L1827.65 348.93 L1812.33 351.69 L1797.89 355.29 L1784.56 359.69 L1772.54 364.82 L1762.04 370.59 L1753.21 376.91 L1746.19 383.68 L1741.1 390.8 L1738.01 398.15 L1736.98 405.62 L1738.01 413.09 L1741.1 420.44 L1746.19 427.56 L1753.21 434.33 L1762.04 440.65 L1772.54 446.42 L1784.56 451.55 L1797.89 455.95 L1812.33 459.55 L1827.65 462.31 L1843.61 464.17 L1859.96 465.11 L1876.44 465.11 L1892.79 464.17 L1908.75 462.31 L1924.07 459.55 L1938.51 455.95 L1951.84 451.55 L1963.86 446.42 L1974.36 440.65 L1983.19 434.33 L1990.21 427.56 L1995.3 420.44 L1998.39 413.09ZM349.92 554.48 L348.89 547.01 L345.8 539.66 L340.71 532.54 L333.69 525.77 L324.86 519.45 L314.36 513.68 L302.34 508.55 L289.01 504.15 L274.57 500.55 L259.25 497.79 L243.29 495.93 L226.94 494.99 L210.46 494.99 L194.11 495.93 L178.15 497.79 L162.83 500.55 L148.39 504.15 L135.06 508.55 L123.04 513.68 L112.54 519.45 L103.71 525.77 L96.69 532.54 L91.6 539.66 L88.51 547.01 L87.48 554.48 L88.51 561.95 L91.6 569.3 L96.69 576.42 L103.71 583.19 L112.54 589.51 L123.04 595.28 L135.06 600.41 L148.39 604.81 L162.83 608.41 L178.15 611.17 L194.11 613.03 L210.46 613.97 L226.94 613.97 L243.29 613.03 L259.25 611.17 L274.57 608.41 L289.01 604.81 L302.34 600.41 L314.36 595.28 L324.86 589.51 L333.69 583.19 L340.71 576.42 L345.8 569.3 L348.89 561.95ZM679.82 554.48 L678.79 547.01 L675.7 539.66 L670.61 532.54 L663.59 525.77 L654.76 519.45 L644.26 513.68 L632.24 508.55 L618.91 504.15 L604.47 500.55 L589.15 497.79 L573.19 495.93 L556.84 494.99 L540.36 494.99 L524.01 495.93 L508.05 497.79 L492.73 500.55 L478.29 504.15 L464.96 508.55 L452.94 513.68 L442.44 519.45 L433.61 525.77 L426.59 532.54 L421.5 539.66 L418.41 547.01 L417.38 554.48 L418.41 561.95 L421.5 569.3 L426.59 576.42 L433.61 583.19 L442.44 589.51 L452.94 595.28 L464.96 600.41 L478.29 604.81 L492.73 608.41 L508.05 611.17 L524.01 613.03 L540.36 613.97 L556.84 613.97 L573.19 613.03 L589.15 611.17 L604.47 608.41 L618.91 604.81 L632.24 600.41 L644.26 595.28 L654.76 589.51 L663.59 583.19 L670.61 576.42 L675.7 569.3 L678.79 561.95ZM1009.72 554.48 L1008.69 547.01 L1005.6 539.66 L1000.51 532.54 L993.49 525.77 L984.66 519.45 L974.16 513.68 L962.14 508.55 L948.81 504.15 L934.37 500.55 L919.05 497.79 L903.09 495.93 L886.74 494.99 L870.26 494.99 L853.91 495.93 L837.95 497.79 L822.63 500.55 L808.19 504.15 L794.86 508.55 L782.84 513.68 L772.34 519.45 L763.51 525.77 L756.49 532.54 L751.4 539.66 L748.31 547.01 L747.28 554.48 L748.31 561.95 L751.4 569.3 L756.49 576.42 L763.51 583.19 L772.34 589.51 L782.84 595.28 L794.86 600.41 L808.19 604.81 L822.63 608.41 L837.95 611.17 L853.91 613.03 L870.26 613.97 L886.74 613.97 L903.09 613.03 L919.05 611.17 L934.37 608.41 L948.81 604.81 L962.14 600.41 L974.16 595.28 L984.66 589.51 L993.49 583.19 L1000.51 576.42 L1005.6 569.3 L1008.69 561.95ZM1339.62 554.48 L1338.59 547.01 L1335.5 539.66 L1330.41 532.54 L1323.39 525.77 L1314.56 519.45 L1304.06 513.68 L1292.04 508.55 L1278.71 504.15 L1264.27 500.55 L1248.95 497.79 L1232.99 495.93 L1216.64 494.99 L1200.16 494.99 L1183.81 495.93 L1167.85 497.79 L1152.53 500.55 L1138.09 504.15 L1124.76 508.55 L1112.74 513.68 L1102.24 519.45 L1093.41 525.77 L1086.39 532.54 L1081.3 539.66 L1078.21 547.01 L1077.18 554.48 L1078.21 561.95 L1081.3 569.3 L1086.39 576.42 L1093.41 583.19 L1102.24 589.51 L1112.74 595.28 L1124.76 600.41 L1138.09 604.81 L1152.53 608.41 L1167.85 611.17 L1183.81 613.03 L1200.16 613.97 L1216.64 613.97 L1232.99 613.03 L1248.95 611.17 L1264.27 608.41 L1278.71 604.81 L1292.04 600.41 L1304.06 595.28 L1314.56 589.51 L1323.39 583.19 L1330.41 576.42 L1335.5 569.3 L1338.59 561.95ZM1669.52 554.48 L1668.49 547.01 L1665.4 539.66 L1660.31 532.54 L1653.29 525.77 L1644.46 519.45 L1633.96 513.68 L1621.94 508.55 L1608.61 504.15 L1594.17 500.55 L1578.85 497.79 L1562.89 495.93 L1546.54 494.99 L1530.06 494.99 L1513.71 495.93 L1497.75 497.79 L1482.43 500.55 L1467.99 504.15 L1454.66 508.55 L1442.64 513.68 L1432.14 519.45 L1423.31 525.77 L1416.29 532.54 L1411.2 539.66 L1408.11 547.01 L1407.08 554.48 L1408.11 561.95 L1411.2 569.3 L1416.29 576.42 L1423.31 583.19 L1432.14 589.51 L1442.64 595.28 L1454.66 600.41 L1467.99 604.81 L1482.43 608.41 L1497.75 611.17 L1513.71 613.03 L1530.06 613.97 L1546.54 613.97 L1562.89 613.03 L1578.85 611.17 L1594.17 608.41 L1608.61 604.81 L1621.94 600.41 L1633.96 595.28 L1644.46 589.51 L1653.29 583.19 L1660.31 576.42 L1665.4 569.3 L1668.49 561.95ZM1999.42 554.48 L1998.39 547.01 L1995.3 539.66 L1990.21 532.54 L1983.19 525.77 L1974.36 519.45 L1963.86 513.68 L1951.84 508.55 L1938.51 504.15 L1924.07 500.55 L1908.75 497.79 L1892.79 495.93 L1876.44 494.99 L1859.96 494.99 L1843.61 495.93 L1827.65 497.79 L1812.33 500.55 L1797.89 504.15 L1784.56 508.55 L1772.54 513.68 L1762.04 519.45 L1753.21 525.77 L1746.19 532.54 L1741.1 539.66 L1738.01 547.01 L1736.98 554.48 L1738.01 561.95 L1741.1 569.3 L1746.19 576.42 L1753.21 583.19 L1762.04 589.51 L1772.54 595.28 L1784.56 600.41 L1797.89 604.81 L1812.33 608.41 L1827.65 611.17 L1843.61 613.03 L1859.96 613.97 L1876.44 613.97 L1892.79 613.03 L1908.75 611.17 L1924.07 608.41 L1938.51 604.81 L1951.84 600.41 L1963.86 595.28 L1974.36 589.51 L1983.19 583.19 L1990.21 576.42 L1995.3 569.3 L1998.39 561.95ZM349.92 703.34 L348.89 695.87 L345.8 688.52 L340.71 681.4 L333.69 674.63 L324.86 668.31 L314.36 662.54 L302.34 657.41 L289.01 653.01 L274.57 649.41 L259.25 646.65 L243.29 644.79 L226.94 643.85 L210.46 643.85 L194.11 644.79 L178.15 646.65 L162.83 649.41 L148.39 653.01 L135.06 657.41 L123.04 662.54 L112.54 668.31 L103.71 674.63 L96.69 681.4 L91.6 688.52 L88.51 695.87 L87.48 703.34 L88.51 710.81 L91.6 718.16 L96.69 725.28 L103.71 732.05 L112.54 738.37 L123.04 744.14 L135.06 749.27 L148.39 753.67 L162.83 757.27 L178.15 760.03 L194.11 761.89 L210.46 762.83 L226.94 762.83 L243.29 761.89 L259.25 760.03 L274.57 757.27 L289.01 753.67 L302.34 749.27 L314.36 744.14 L324.86 738.37 L333.69 732.05 L340.71 725.28 L345.8 718.16 L348.89 710.81ZM679.82 703.34 L678.79 695.87 L675.7 688.52 L670.61 681.4 L663.59 674.63 L654.76 668.31 L644.26 662.54 L632.24 657.41 L618.91 653.01 L604.47 649.41 L589.15 646.65 L573.19 644.79 L556.84 643.85 L540.36 643.85 L524.01 644.79 L508.05 646.65 L492.73 649.41 L478.29 653.01 L464.96 657.41 L452.94 662.54 L442.44 668.31 L433.61 674.63 L426.59 681.4 L421.5 688.52 L418.41 695.87 L417.38 703.34 L418.41 710.81 L421.5 718.16 L426.59 725.28 L433.61 732.05 L442.44 738.37 L452.94 744.14 L464.96 749.27 L478.29 753.67 L492.73 757.27 L508.05 760.03 L524.01 761.89 L540.36 762.83 L556.84 762.83 L573.19 761.89 L589.15 760.03 L604.47 757.27 L618.91 753.67 L632.24 749.27 L644.26 744.14 L654.76 738.37 L663.59 732.05 L670.61 725.28 L675.7 718.16 L678.79 710.81ZM1009.72 703.34 L1008.69 695.87 L1005.6 688.52 L1000.51 681.4 L993.49 674.63 L984.66 668.31 L974.16 662.54 L962.14 657.41 L948.81 653.01 L934.37 649.41 L919.05 646.65 L903.09 644.79 L886.74 643.85 L870.26 643.85 L853.91 644.79 L837.95 646.65 L822.63 649.41 L808.19 653.01 L794.86 657.41 L782.84 662.54 L772.34 668.31 L763.51 674.63 L756.49 681.4 L751.4 688.52 L748.31 695.87 L747.28 703.34 L748.31 710.81 L751.4 718.16 L756.49 725.28 L763.51 732.05 L772.34 738.37 L782.84 744.14 L794.86 749.27 L808.19 753.67 L822.63 757.27 L837.95 760.03 L853.91 761.89 L870.26 762.83 L886.74 762.83 L903.09 761.89 L919.05 760.03 L934.37 757.27 L948.81 753.67 L962.14 749.27 L974.16 744.14 L984.66 738.37 L993.49 732.05 L1000.51 725.28 L1005.6 718.16 L1008.69 710.81ZM1339.62 703.34 L1338.59 695.87 L1335.5 688.52 L1330.41 681.4 L1323.39 674.63 L1314.56 668.31 L1304.06 662.54 L1292.04 657.41 L1278.71 653.01 L1264.27 649.41 L1248.95 646.65 L1232.99 644.79 L1216.64 643.85 L1200.16 643.85 L1183.81 644.79 L1167.85 646.65 L1152.53 649.41 L1138.09 653.01 L1124.76 657.41 L1112.74 662.54 L1102.24 668.31 L1093.41 674.63 L1086.39 681.4 L1081.3 688.52 L1078.21 695.87 L1077.18 703.34 L1078.21 710.81 L1081.3 718.16 L1086.39 725.28 L1093.41 732.05 L1102.24 738.37 L1112.74 744.14 L1124.76 749.27 L1138.09 753.67 L1152.53 757.27 L1167.85 760.03 L1183.81 761.89 L1200.16 762.83 L1216.64 762.83 L1232.99 761.89 L1248.95 760.03 L1264.27 757.27 L1278.71 753.67 L1292.04 749.27 L1304.06 744.14 L1314.56 738.37 L1323.39 732.05 L1330.41 725.28 L1335.5 718.16 L1338.59 710.81ZM1669.52 703.34 L1668.49 695.87 L1665.4 688.52 L1660.31 681.4 L1653.29 674.63 L1644.46 668.31 L1633.96 662.54 L1621.94 657.41 L1608.61 653.01 L1594.17 649.41 L1578.85 646.65 L1562.89 644.79 L1546.54 643.85 L1530.06 643.85 L1513.71 644.79 L1497.75 646.65 L1482.43 649.41 L1467.99 653.01 L1454.66 657.41 L1442.64 662.54 L1432.14 668.31 L1423.31 674.63 L1416.29 681.4 L1411.2 688.52 L1408.11 695.87 L1407.08 703.34 L1408.11 710.81 L1411.2 718.16 L1416.29 725.28 L1423.31 732.05 L1432.14 738.37 L1442.64 744.14 L1454.66 749.27 L1467.99 753.67 L1482.43 757.27 L1497.75 760.03 L1513.71 761.89 L1530.06 762.83 L1546.54 762.83 L1562.89 761.89 L1578.85 760.03 L1594.17 757.27 L1608.61 753.67 L1621.94 749.27 L1633.96 744.14 L1644.46 738.37 L1653.29 732.05 L1660.31 725.28 L1665.4 718.16 L1668.49 710.81ZM1999.42 703.34 L1998.39 695.87 L1995.3 688.52 L1990.21 681.4 L1983.19 674.63 L1974.36 668.31 L1963.86 662.54 L1951.84 657.41 L1938.51 653.01 L1924.07 649.41 L1908.75 646.65 L1892.79 644.79 L1876.44 643.85 L1859.96 643.85 L1843.61 644.79 L1827.65 646.65 L1812.33 649.41 L1797.89 653.01 L1784.56 657.41 L1772.54 662.54 L1762.04 668.31 L1753.21 674.63 L1746.19 681.4 L1741.1 688.52 L1738.01 695.87 L1736.98 703.34 L1738.01 710.81 L1741.1 718.16 L1746.19 725.28 L1753.21 732.05 L1762.04 738.37 L1772.54 744.14 L1784.56 749.27 L1797.89 753.67 L1812.33 757.27 L1827.65 760.03 L1843.61 761.89 L1859.96 762.83 L1876.44 762.83 L1892.79 761.89 L1908.75 760.03 L1924.07 757.27 L1938.51 753.67 L1951.84 749.27 L1963.86 744.14 L1974.36 738.37 L1983.19 732.05 L1990.21 725.28 L1995.3 718.16 L1998.39 710.81ZM349.92 852.2 L348.89 844.73 L345.8 837.38 L340.71 830.26 L333.69 823.49 L324.86 817.17 L314.36 811.4 L302.34 806.27 L289.01 801.87 L274.57 798.27 L259.25 795.51 L243.29 793.65 L226.94 792.71 L210.46 792.71 L194.11 793.65 L178.15 795.51 L162.83 798.27 L148.39 801.87 L135.06 806.27 L123.04 811.4 L112.54 817.17 L103.71 823.49 L96.69 830.26 L91.6 837.38 L88.51 844.73 L87.48 852.2 L88.51 859.67 L91.6 867.02 L96.69 874.14 L103.71 880.91 L112.54 887.23 L123.04 893 L135.06 898.13 L148.39 902.53 L162.83 906.13 L178.15 908.89 L194.11 910.75 L210.46 911.69 L226.94 911.69 L243.29 910.75 L259.25 908.89 L274.57 906.13 L289.01 902.53 L302.34 898.13 L314.36 893 L324.86 887.23 L333.69 880.91 L340.71 874.14 L345.8 867.02 L348.89 859.67ZM679.82 852.2 L678.79 844.73 L675.7 837.38 L670.61 830.26 L663.59 823.49 L654.76 817.17 L644.26 811.4 L632.24 806.27 L618.91 801.87 L604.47 798.27 L589.15 795.51 L573.19 793.65 L556.84 792.71 L540.36 792.71 L524.01 793.65 L508.05 795.51 L492.73 798.27 L478.29 801.87 L464.96 806.27 L452.94 811.4 L442.44 817.17 L433.61 823.49 L426.59 830.26 L421.5 837.38 L418.41 844.73 L417.38 852.2 L418.41 859.67 L421.5 867.02 L426.59 874.14 L433.61 880.91 L442.44 887.23 L452.94 893 L464.96 898.13 L478.29 902.53 L492.73 906.13 L508.05 908.89 L524.01 910.75 L540.36 911.69 L556.84 911.69 L573.19 910.75 L589.15 908.89 L604.47 906.13 L618.91 902.53 L632.24 898.13 L644.26 893 L654.76 887.23 L663.59 880.91 L670.61 874.14 L675.7 867.02 L678.79 859.67ZM1009.72 852.2 L1008.69 844.73 L1005.6 837.38 L1000.51 830.26 L993.49 823.49 L984.66 817.17 L974.16 811.4 L962.14 806.27 L948.81 801.87 L934.37 798.27 L919.05 795.51 L903.09 793.65 L886.74 792.71 L870.26 792.71 L853.91 793.65 L837.95 795.51 L822.63 798.27 L808.19 801.87 L794.86 806.27 L782.84 811.4 L772.34 817.17 L763.51 823.49 L756.49 830.26 L751.4 837.38 L748.31 844.73 L747.28 852.2 L748.31 859.67 L751.4 867.02 L756.49 874.14 L763.51 880.91 L772.34 887.23 L782.84 893 L794.86 898.13 L808.19 902.53 L822.63 906.13 L837.95 908.89 L853.91 910.75 L870.26 911.69 L886.74 911.69 L903.09 910.75 L919.05 908.89 L934.37 906.13 L948.81 902.53 L962.14 898.13 L974.16 893 L984.66 887.23 L993.49 880.91 L1000.51 874.14 L1005.6 867.02 L1008.69 859.67ZM1339.62 852.2 L1338.59 844.73 L1335.5 837.38 L1330.41 830.26 L1323.39 823.49 L1314.56 817.17 L1304.06 811.4 L1292.04 806.27 L1278.71 801.87 L1264.27 798.27 L1248.95 795.51 L1232.99 793.65 L1216.64 792.71 L1200.16 792.71 L1183.81 793.65 L1167.85 795.51 L1152.53 798.27 L1138.09 801.87 L1124.76 806.27 L1112.74 811.4 L1102.24 817.17 L1093.41 823.49 L1086.39 830.26 L1081.3 837.38 L1078.21 844.73 L1077.18 852.2 L1078.21 859.67 L1081.3 867.02 L1086.39 874.14 L1093.41 880.91 L1102.24 887.23 L1112.74 893 L1124.76 898.13 L1138.09 902.53 L1152.53 906.13 L1167.85 908.89 L1183.81 910.75 L1200.16 911.69 L1216.64 911.69 L1232.99 910.75 L1248.95 908.89 L1264.27 906.13 L1278.71 902.53 L1292.04 898.13 L1304.06 893 L1314.56 887.23 L1323.39 880.91 L1330.41 874.14 L1335.5 867.02 L1338.59 859.67ZM1669.52 852.2 L1668.49 844.73 L1665.4 837.38 L1660.31 830.26 L1653.29 823.49 L1644.46 817.17 L1633.96 811.4 L1621.94 806.27 L1608.61 801.87 L1594.17 798.27 L1578.85 795.51 L1562.89 793.65 L1546.54 792.71 L1530.06 792.71 L1513.71 793.65 L1497.75 795.51 L1482.43 798.27 L1467.99 801.87 L1454.66 806.27 L1442.64 811.4 L1432.14 817.17 L1423.31 823.49 L1416.29 830.26 L1411.2 837.38 L1408.11 844.73 L1407.08 852.2 L1408.11 859.67 L1411.2 867.02 L1416.29 874.14 L1423.31 880.91 L1432.14 887.23 L1442.64 893 L1454.66 898.13 L1467.99 902.53 L1482.43 906.13 L1497.75 908.89 L1513.71 910.75 L1530.06 911.69 L1546.54 911.69 L1562.89 910.75 L1578.85 908.89 L1594.17 906.13 L1608.61 902.53 L1621.94 898.13 L1633.96 893 L1644.46 887.23 L1653.29 880.91 L1660.31 874.14 L1665.4 867.02 L1668.49 859.67ZM1999.42 852.2 L1998.39 844.73 L1995.3 837.38 L1990.21 830.26 L1983.19 823.49 L1974.36 817.17 L1963.86 811.4 L1951.84 806.27 L1938.51 801.87 L1924.07 798.27 L1908.75 795.51 L1892.79 793.65 L1876.44 792.71 L1859.96 792.71 L1843.61 793.65 L1827.65 795.51 L1812.33 798.27 L1797.89 801.87 L1784.56 806.27 L1772.54 811.4 L1762.04 817.17 L1753.21 823.49 L1746.19 830.26 L1741.1 837.38 L1738.01 844.73 L1736.98 852.2 L1738.01 859.67 L1741.1 867.02 L1746.19 874.14 L1753.21 880.91 L1762.04 887.23 L1772.54 893 L1784.56 898.13 L1797.89 902.53 L1812.33 906.13 L1827.65 908.89 L1843.61 910.75 L1859.96 911.69 L1876.44 911.69 L1892.79 910.75 L1908.75 908.89 L1924.07 906.13 L1938.51 902.53 L1951.84 898.13 L1963.86 893 L1974.36 887.23 L1983.19 880.91 L1990.21 874.14 L1995.3 867.02 L1998.39 859.67Z" fill="none" stroke="#999999" stroke-width="4" stroke-linejoin="round"/>
<path d="M219.1 107.9L295.15 68.57M549 107.9L633.41 70.56M878.9 107.9L975.31 77.24M1208.8 107.9L1326.73 99.97M1538.7 107.9L1599.7 151.18M1868.6 107.9L1867.89 155.7M219.1 256.76L300.21 219.17M549 256.76L637.59 222.13M878.9 256.76L979.19 228.52M1208.8 256.76L1326.72 250.13M1538.7 256.76L1609.74 297.8M1868.6 256.76L1871.51 304.72M219.1 405.62L306.62 370.81M549 405.62L643.37 374.12M878.9 405.62L983.65 380.98M1208.8 405.62L1327.31 400.92M1538.7 405.62L1621.19 443.66M1868.6 405.62L1878.4 453.66M219.1 554.48L315.62 523.66M549 554.48L650.46 526.73M878.9 554.48L988.93 533.71M1208.8 554.48L1327.31 551.07M1538.7 554.48L1634.62 585.32M1868.6 554.48L1890.81 602.21M219.1 703.34L325.98 680.96M549 703.34L658.92 683.06M878.9 703.34L993.4 689.28M1208.8 703.34L1327.3 700.96M1538.7 703.34L1647.54 724.52M1868.6 703.34L1918.18 749.45M219.1 852.2L337.03 844M549 852.2L667.32 846.34M878.9 852.2L998.01 847.78M1208.8 852.2L1328 851.66M1538.7 852.2L1656.72 858.42M1868.6 852.2L1976.96 874.12" fill="none" stroke="#3366ff" stroke-width="4" stroke-linecap="butt"/>
<path d="M304.92 63.52L296.19 72.76L292.34 65.3ZM643.47 66.11L634.2 74.8L630.8 67.12ZM985.79 73.91L975.63 81.55L973.09 73.54ZM1337.7 99.23L1326.01 104.23L1325.45 95.85ZM1608.67 157.54L1596.45 154.02L1601.31 147.17ZM1867.73 166.7L1863.71 154.64L1872.11 154.76ZM310.19 214.54L301.06 223.4L297.53 215.78ZM647.84 218.13L638.19 226.41L635.13 218.58ZM989.77 225.54L979.36 232.84L977.09 224.75ZM1337.7 249.51L1325.96 254.38L1325.49 245.99ZM1619.27 303.3L1606.78 300.93L1610.98 293.66ZM1872.18 315.7L1867.26 303.98L1875.64 303.47ZM316.84 366.74L307.24 375.08L304.14 367.27ZM653.8 370.63L643.75 378.42L641.09 370.45ZM994.35 378.46L983.63 385.29L981.71 377.12ZM1338.3 400.48L1326.48 405.15L1326.14 396.76ZM1631.18 448.26L1618.53 447.05L1622.04 439.42ZM1880.6 464.44L1874.09 453.52L1882.32 451.84ZM326.09 520.31L315.94 527.96L313.39 519.96ZM661.07 523.83L650.6 531.04L648.39 522.94ZM999.73 531.67L988.72 538.02L987.16 529.77ZM1338.3 550.76L1326.43 555.3L1326.19 546.9ZM1645.1 588.69L1632.39 589.01L1634.96 581.02ZM1895.46 612.19L1886.59 603.08L1894.2 599.54ZM336.74 678.71L325.86 685.28L324.14 677.06ZM669.73 681.06L658.69 687.37L657.17 679.11ZM1004.31 687.94L992.92 693.57L991.89 685.24ZM1338.3 700.74L1326.39 705.18L1326.22 696.78ZM1658.34 726.62L1645.76 728.45L1647.36 720.2ZM1926.24 756.94L1914.59 751.84L1920.31 745.69ZM348 843.24L336.32 848.26L335.74 839.88ZM678.3 845.8L666.52 850.59L666.11 842.2ZM1009 847.37L997.17 852.02L996.85 843.62ZM1339 851.61L1327.02 855.86L1326.98 847.46ZM1667.7 858.99L1655.5 862.56L1655.94 854.17ZM1987.74 876.3L1975.15 878.04L1976.81 869.81Z" fill="#3366ff" stroke="#3366ff" stroke-width="4" stroke-linejoin="round"/>
</g>
<path d="M385 917V928M866 917V928M1346 917V928M1827 917V928M119 853H130M119 635H130M119 417H130M119 198H130" stroke="#333333" stroke-width="4" fill="none"/>
<mask id="nofoot" maskUnits="userSpaceOnUse" x="0" y="0" width="2100" height="1050"><rect x="0" y="0" width="2100" height="1050" fill="#fff"/><rect x="863.03" y="962.46" width="8.03" height="3.74" fill="#000"/><rect x="874.3" y="962.46" width="7.74" height="3.74" fill="#000"/><rect x="1818.26" y="962.46" width="8.03" height="3.74" fill="#000"/><rect x="1829.53" y="962.46" width="7.74" height="3.74" fill="#000"/><rect x="91.7" y="864.66" width="8.03" height="3.74" fill="#000"/><rect x="102.97" y="864.66" width="7.74" height="3.74" fill="#000"/><rect x="91.7" y="428.66" width="8.03" height="3.74" fill="#000"/><rect x="102.97" y="428.66" width="7.74" height="3.74" fill="#000"/></mask>
<g mask="url(#nofoot)">
<text transform="translate(368.06 965.7) scale(1 1.035)" y="0" font-family="'Liberation Sans', Arial, sans-serif" font-size="36.67" fill="#4d4d4d"><tspan x="0">-</tspan><tspan x="12.21">2</tspan></text>
<text transform="translate(848.73 965.7) scale(1 1.035)" y="0" font-family="'Liberation Sans', Arial, sans-serif" font-size="36.67" fill="#4d4d4d"><tspan x="0">-</tspan><tspan x="13.11">1</tspan></text>
<text transform="translate(1335.5 965.7) scale(1 1.035)" y="0" font-family="'Liberation Sans', Arial, sans-serif" font-size="36.67" fill="#4d4d4d"><tspan x="0">0</tspan></text>
<text transform="translate(1816.17 965.7) scale(1 1.035)" y="0" font-family="'Liberation Sans', Arial, sans-serif" font-size="36.67" fill="#4d4d4d"><tspan x="0.9">1</tspan></text>
<text transform="translate(77.39 867.9) scale(1 1.035)" y="0" font-family="'Liberation Sans', Arial, sans-serif" font-size="36.67" fill="#4d4d4d"><tspan x="0">-</tspan><tspan x="13.11">1</tspan></text>
<text transform="translate(89.61 649.9) scale(1 1.035)" y="0" font-family="'Liberation Sans', Arial, sans-serif" font-size="36.67" fill="#4d4d4d"><tspan x="0">0</tspan></text>
<text transform="translate(89.61 431.9) scale(1 1.035)" y="0" font-family="'Liberation Sans', Arial, sans-serif" font-size="36.67" fill="#4d4d4d"><tspan x="0.9">1</tspan></text>
<text transform="translate(89.61 212.9) scale(1 1.035)" y="0" font-family="'Liberation Sans', Arial, sans-serif" font-size="36.67" fill="#4d4d4d"><tspan x="0">2</tspan></text>
</g>
<text x="1103.5" y="1018.7" font-family="'Liberation Sans', Arial, sans-serif" font-size="45.83" fill="#000000" text-anchor="middle">lon</text>
<text transform="translate(57 470.2) rotate(-90)" x="0" y="0" font-family="'Liberation Sans', Arial, sans-serif" font-size="45.83" fill="#000000" text-anchor="middle">lat</text>
</svg>
</body></html>
